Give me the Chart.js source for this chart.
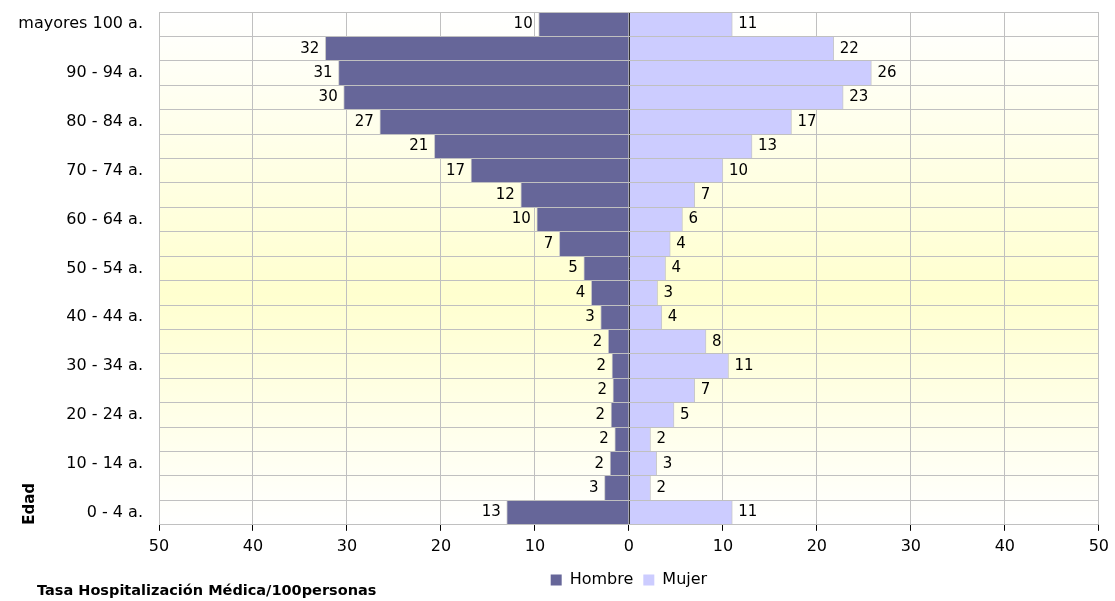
<!DOCTYPE html>
<html>
<head>
<meta charset="utf-8">
<script src="https://cdn.jsdelivr.net/npm/chart.js@4/dist/chart.umd.min.js"></script>
<style>
  html, body { margin: 0; padding: 0; background: #fff; }
  #wrap { width: 1115px; height: 601px; }
</style>
</head>
<body>
<div id="wrap"><canvas id="piramide"></canvas></div>
<script>
// grupos de edad, de abajo hacia arriba
const ageGroups = ['0 - 4 a.', '5 - 9 a.', '10 - 14 a.', '15 - 19 a.', '20 - 24 a.', '25 - 29 a.', '30 - 34 a.',
  '35 - 39 a.', '40 - 44 a.', '45 - 49 a.', '50 - 54 a.', '55 - 59 a.', '60 - 64 a.', '65 - 69 a.', '70 - 74 a.',
  '75 - 79 a.', '80 - 84 a.', '85 - 89 a.', '90 - 94 a.', '95 - 99 a.', 'mayores 100 a.'];
const hombre = [13.0, 2.6, 2.0, 1.5, 1.9, 1.7, 1.8, 2.2, 3.0, 4.0, 4.8, 7.4, 9.8, 11.5, 16.8, 20.7, 26.5, 30.35, 30.9, 32.3, 9.6];
const mujer = [11.0, 2.3, 2.95, 2.3, 4.8, 7.0, 10.6, 8.2, 3.5, 3.05, 3.9, 4.4, 5.7, 7.0, 10.0, 13.1, 17.3, 22.8, 25.8, 21.8, 11.0];
const xTicks = [-50, -40, -30, -20, -10, 0, 10, 20, 30, 40, 50];

const FONT = 'DejaVu Sans';
const C_HOMBRE = '#666699';
const C_MUJER = '#CCCCFF';

// Chart.js pinta la primera categoría arriba -> invertimos
const labels = ageGroups.slice().reverse();
const dataH = hombre.slice().reverse().map(v => -v);
const dataM = mujer.slice().reverse();

// fondo degradado blanco -> amarillo -> blanco
const fondo = {
  id: 'fondo',
  beforeDraw(chart) {
    const { ctx, chartArea: a } = chart;
    const g = ctx.createLinearGradient(0, a.top, 0, a.bottom);
    g.addColorStop(0, '#FFFFFF');
    g.addColorStop(0.55, '#FFFFCF');
    g.addColorStop(1, '#FFFFFF');
    ctx.save();
    ctx.fillStyle = g;
    ctx.fillRect(a.left, a.top, a.right - a.left, a.bottom - a.top);
    ctx.restore();
  }
};

// línea del cero, borde izquierdo y etiquetas de valor
const etiquetas = {
  id: 'etiquetas',
  afterDatasetsDraw(chart) {
    const { ctx, chartArea: a, scales } = chart;
    const x0 = Math.round(scales.x.getPixelForValue(0)) + 0.5;
    ctx.save();
    ctx.lineWidth = 1;
    ctx.strokeStyle = '#333333';
    ctx.beginPath();
    ctx.moveTo(x0, a.top);
    ctx.lineTo(x0, a.bottom);
    ctx.stroke();
    ctx.strokeStyle = '#C0C0C0';
    ctx.beginPath();
    ctx.moveTo(Math.round(a.left) + 0.5, a.top);
    ctx.lineTo(Math.round(a.left) + 0.5, a.bottom);
    ctx.stroke();

    ctx.font = '15px "' + FONT + '"';
    ctx.fillStyle = '#000';
    ctx.textBaseline = 'middle';
    chart.data.datasets.forEach((ds, di) => {
      const meta = chart.getDatasetMeta(di);
      meta.data.forEach((bar, i) => {
        const v = Math.round(Math.abs(ds.data[i]));
        if (ds.data[i] < 0) {
          ctx.textAlign = 'right';
          ctx.fillText(String(v), bar.x - 6, bar.y);
        } else {
          ctx.textAlign = 'left';
          ctx.fillText(String(v), bar.x + 6, bar.y);
        }
      });
    });
    ctx.restore();
  }
};

// título inferior, alineado a la izquierda
const tituloX = {
  id: 'tituloX',
  afterDraw(chart) {
    const { ctx } = chart;
    ctx.save();
    ctx.font = 'bold 14.5px "' + FONT + '"';
    ctx.fillStyle = '#000';
    ctx.textAlign = 'left';
    ctx.textBaseline = 'middle';
    ctx.fillText('Tasa Hospitalización Médica/100personas', 37, 591);
    ctx.restore();
  }
};

new Chart(document.getElementById('piramide'), {
  type: 'bar',
  data: {
    labels: labels,
    datasets: [
      { label: 'Hombre', data: dataH, backgroundColor: C_HOMBRE, borderColor: '#C8C8C8',
        borderWidth: { left: 1, right: 1, top: 0, bottom: 0 }, borderSkipped: 'start',
        categoryPercentage: 1, barPercentage: 1 },
      { label: 'Mujer', data: dataM, backgroundColor: C_MUJER, borderColor: '#C8C8C8',
        borderWidth: { left: 1, right: 1, top: 0, bottom: 0 }, borderSkipped: 'start',
        categoryPercentage: 1, barPercentage: 1 }
    ]
  },
  options: {
    indexAxis: 'y',
    responsive: true,
    maintainAspectRatio: false,
    animation: false,
    layout: { padding: { top: 12, right: 16, left: 0, bottom: 3 } },
    scales: {
      x: {
        stacked: true,
        min: -50, max: 50,
        afterBuildTicks: s => { s.ticks = xTicks.map(v => ({ value: v })); },
        ticks: { callback: v => Math.abs(v), color: '#000', font: { family: FONT, size: 16 }, padding: 6, maxRotation: 0 },
        grid: { color: '#C0C0C0', tickColor: '#000', tickLength: 6 },
        border: { color: '#000', width: 1 }
      },
      y: {
        stacked: true,
        afterFit: s => { s.width = 159; s.paddingTop = 0; s.paddingBottom = 0; },
        ticks: {
          autoSkip: false, padding: 16, color: '#000', font: { family: FONT, size: 16 },
          callback: function (v, i) { return i % 2 === 0 ? this.getLabelForValue(v) : ''; }
        },
        grid: { color: '#C0C0C0', drawTicks: false, z: 1 },
        border: { display: false },
        title: { display: true, text: 'Edad', align: 'start', color: '#000',
          font: { family: FONT, size: 15, weight: 'bold' }, padding: { top: 21, bottom: 0 } }
      }
    },
    plugins: {
      legend: {
        position: 'bottom',
        fullSize: false,
        labels: {
          color: '#000', font: { family: FONT, size: 16 }, boxWidth: 11, boxHeight: 11, padding: 10,
          generateLabels: chart => chart.data.datasets.map((ds, i) => ({
            text: ds.label, fillStyle: ds.backgroundColor, strokeStyle: ds.backgroundColor,
            lineWidth: 0, datasetIndex: i, hidden: false
          }))
        }
      },
      tooltip: { enabled: false }
    }
  },
  plugins: [fondo, etiquetas, tituloX]
});
</script>
</body>
</html>
